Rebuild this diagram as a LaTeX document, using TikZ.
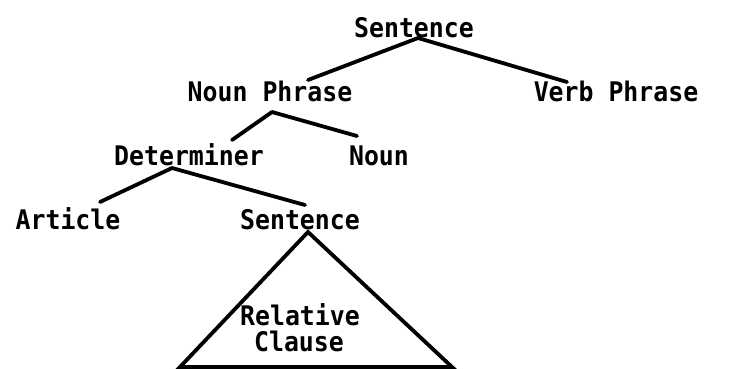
\documentclass[tikz,border=0pt]{standalone}
\usepackage{fontspec}
\newfontfamily\tw{DejaVu Sans Mono Bold}[FakeStretch=0.92]
\usetikzlibrary{calc}
\begin{document}
\begin{tikzpicture}[x=1pt,y=-1pt,
  lbl/.style={inner sep=0pt,anchor=base,font=\tw\fontsize{27}{29}\selectfont},
  branch/.style={line width=3.8pt,line cap=round}]
\useasboundingbox (0,0) rectangle (732,368);
\node[lbl] (s1)  at (414,37)  {Sentence};
\node[lbl] (np)  at (270,101) {Noun Phrase};
\node[lbl] (vp)  at (616,101) {Verb Phrase};
\node[lbl] (det) at (189,165) {Determiner};
\node[lbl] (n)   at (379,165) {Noun};
\node[lbl] (art) at (68,229)  {Article};
\node[lbl] (s2)  at (300,229) {Sentence};
\node[lbl] (rel) at (300,325) {Relative};
\node[lbl] (cl)  at (299,351) {Clause};
\coordinate (tl) at (180,367);
\coordinate (tr) at (452,367);
\draw[branch] ($(s1.base)+(4,1)$) -- ($(np.base)+(38,-21)$);
\draw[branch] ($(s1.base)+(4,1)$) -- ($(vp.base)+(-49,-19)$);
\draw[branch] ($(np.base)+(2,11)$) -- ($(det.base)+(43,-25)$);
\draw[branch] ($(np.base)+(2,11)$) -- ($(n.base)+(-22,-29)$);
\draw[branch] ($(det.base)+(-17,3)$) -- ($(art.base)+(32,-27)$);
\draw[branch] ($(det.base)+(-17,3)$) -- ($(s2.base)+(5,-24)$);
\draw[branch,line join=miter] ($(s2.base)+(8,3)$) -- (tl) -- (tr) -- cycle;
\end{tikzpicture}
\end{document}
